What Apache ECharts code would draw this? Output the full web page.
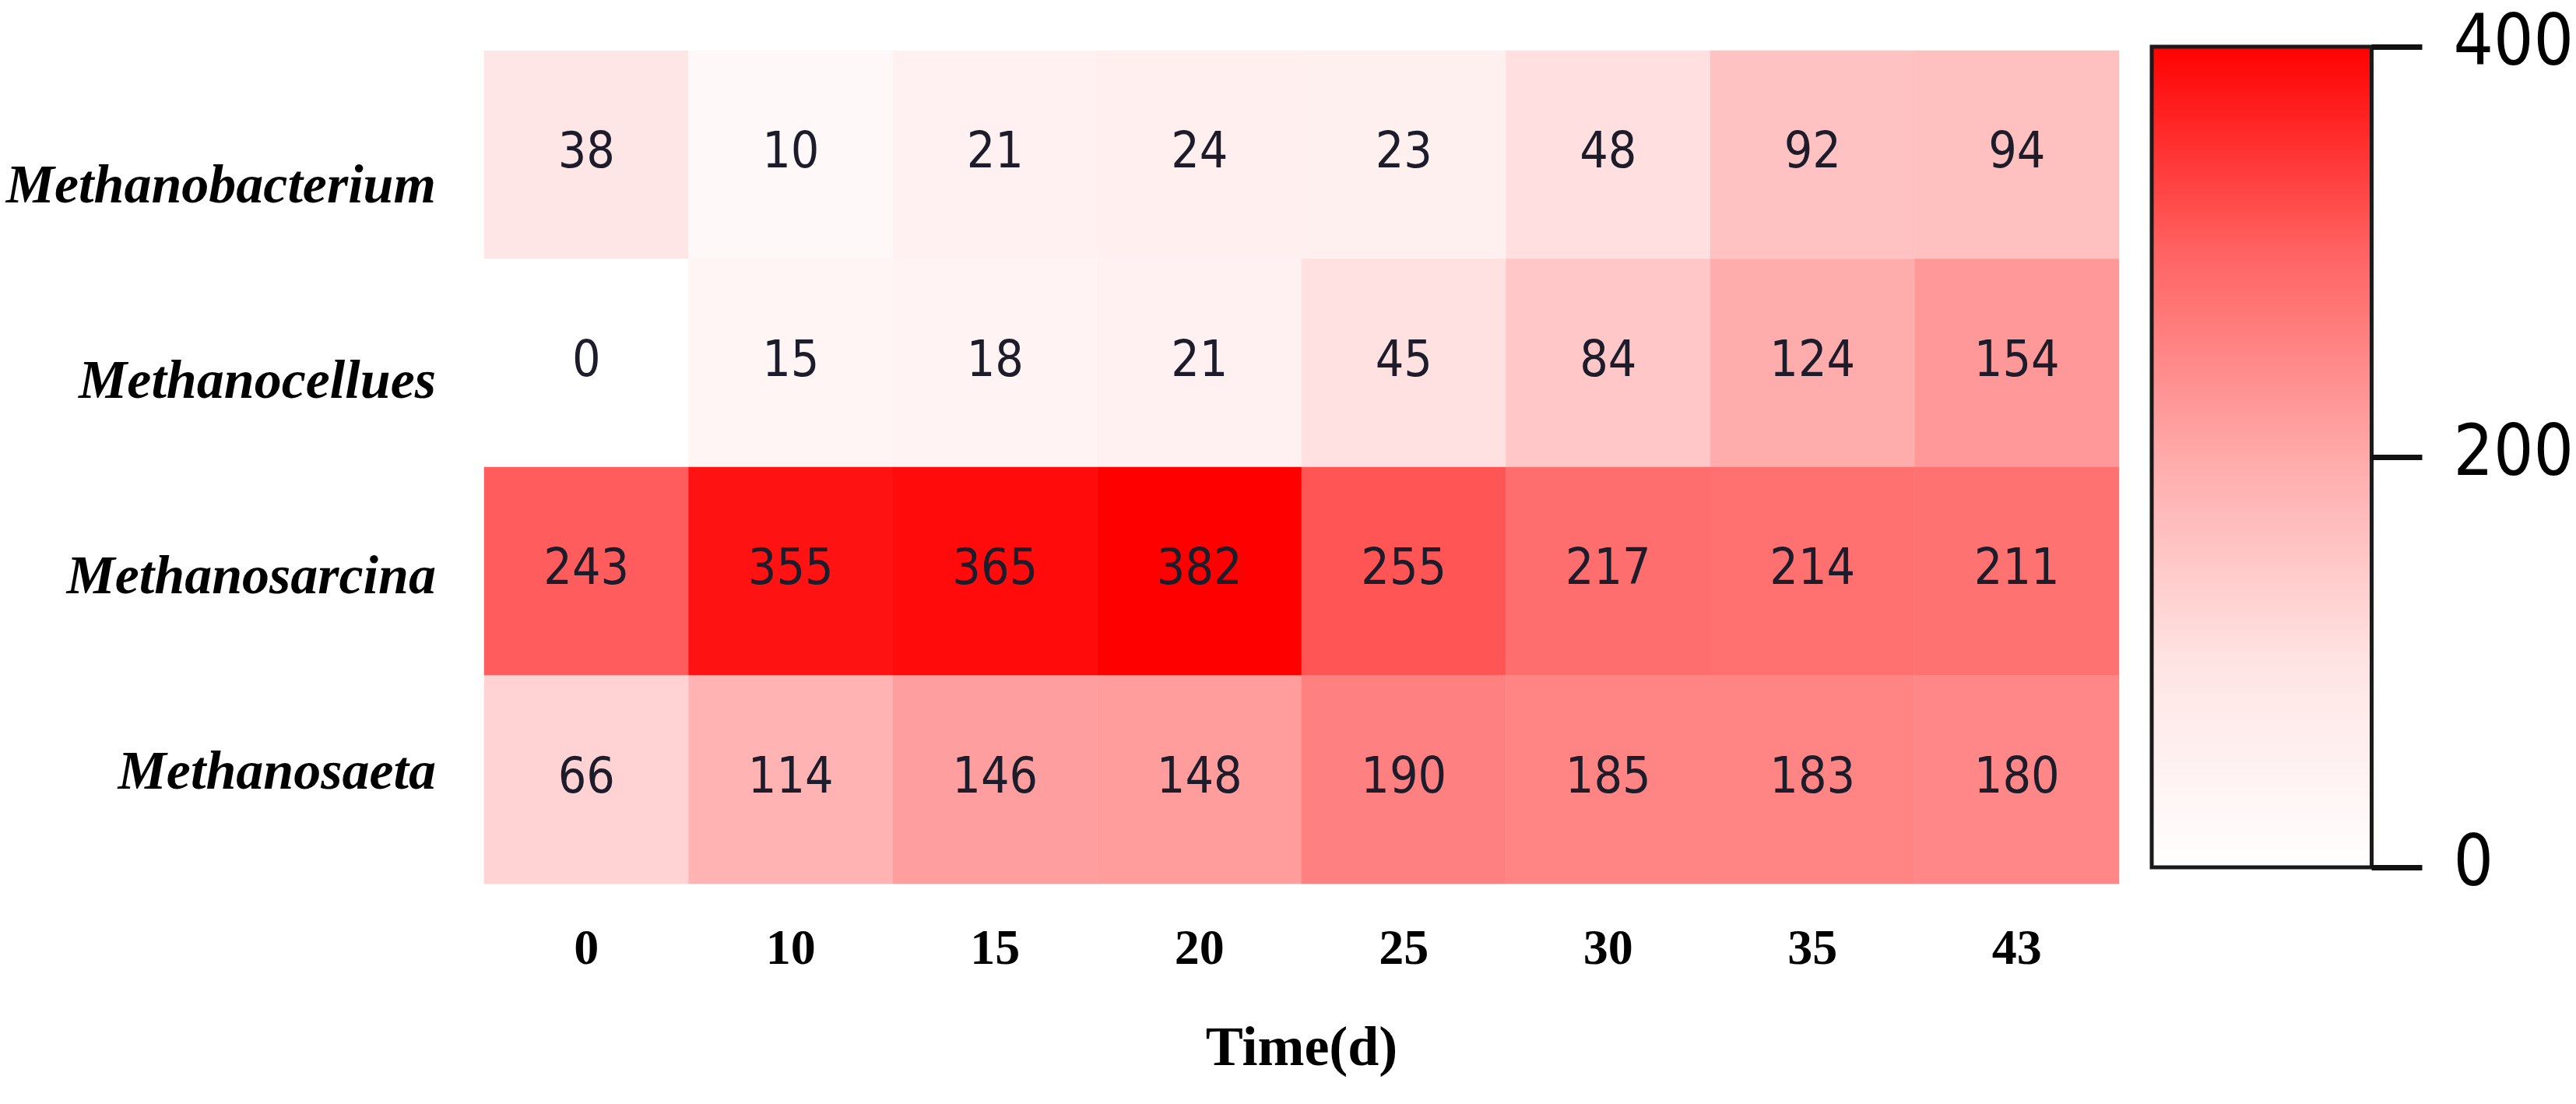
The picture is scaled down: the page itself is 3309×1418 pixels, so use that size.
<!DOCTYPE html>
<html>
<head>
<meta charset="utf-8">
<script src="https://cdn.jsdelivr.net/npm/echarts@6/dist/echarts.min.js"></script>
<style>
html,body{margin:0;padding:0;background:#fff;}
#chart{width:3309px;height:1418px;}
</style>
</head>
<body>
<div id="chart"></div>
<script>
// ---- data ----
const times = ['0', '10', '15', '20', '25', '30', '35', '43'];
const genera = ['Methanobacterium', 'Methanocellues', 'Methanosarcina', 'Methanosaeta'];
const methanobacterium = [38, 10, 21, 24, 23, 48, 92, 94];
const methanocellues = [0, 15, 18, 21, 45, 84, 124, 154];
const methanosarcina = [243, 355, 365, 382, 255, 217, 214, 211];
const methanosaeta = [66, 114, 146, 148, 190, 185, 183, 180];
const colorbarMin = 0;
const colorbarMax = 400;
const colorbarInterval = 200;

const rows = [methanobacterium, methanocellues, methanosarcina, methanosaeta];
const heatData = [];
rows.forEach(function (vals, r) {
  vals.forEach(function (v, c) { heatData.push([c, r, v]); });
});
const dataMax = Math.max.apply(null, rows.flat());

const serif = '"Liberation Serif", "Times New Roman", serif';
const narrow = '"DejaVu Sans Condensed", "Liberation Sans Narrow", "Liberation Sans", sans-serif';

const chart = echarts.init(document.getElementById('chart'), null, {renderer: 'canvas'});
chart.setOption({
  backgroundColor: '#ffffff',
  animation: false,
  grid: [
    {left: 622, top: 65, width: 2100, height: 1070, show: false},
    {left: 622, top: 116, width: 10, height: 1004, show: false},
    {left: 2764, top: 60, width: 289, height: 1054, show: true,
     borderColor: '#1a1a1a', borderWidth: 5,
     backgroundColor: new echarts.graphic.LinearGradient(0, 0, 0, 1, [
       {offset: 0, color: '#ff0000'},
       {offset: 0.25, color: '#ff6262'},
       {offset: 0.5, color: '#ffaaaa'},
       {offset: 0.75, color: '#ffe4e4'},
       {offset: 1, color: '#ffffff'}
     ])}
  ],
  xAxis: [
    {type: 'category', gridIndex: 0, data: times,
     axisLine: {show: false}, axisTick: {show: false}, splitLine: {show: false},
     axisLabel: {fontFamily: serif, fontWeight: 'bold', fontSize: 64, color: '#000', margin: 54},
     name: 'Time(d)', nameLocation: 'middle', nameGap: 178,
     nameTextStyle: {fontFamily: serif, fontWeight: 'bold', fontSize: 72, color: '#000'}},
    {type: 'value', gridIndex: 1, show: false},
    {type: 'value', gridIndex: 2, show: false}
  ],
  yAxis: [
    {type: 'category', gridIndex: 0, data: genera, inverse: true,
     axisLine: {show: false}, axisTick: {show: false}, axisLabel: {show: false}, splitLine: {show: false}},
    {type: 'category', gridIndex: 1, data: genera, inverse: true,
     axisLine: {show: false, onZero: false}, axisTick: {show: false}, splitLine: {show: false},
     axisLabel: {fontFamily: serif, fontStyle: 'italic', fontWeight: 'bold', fontSize: 70, color: '#000', margin: 62}},
    {type: 'value', gridIndex: 2, position: 'right', min: colorbarMin, max: colorbarMax, interval: colorbarInterval,
     axisLine: {show: false, onZero: false}, splitLine: {show: false},
     axisTick: {show: true, inside: false, length: 65, lineStyle: {color: '#111', width: 7}},
     axisLabel: {fontFamily: narrow, fontSize: 90, color: '#000', margin: 105}}
  ],
  visualMap: {
    type: 'continuous', show: false, min: 0, max: dataMax, seriesIndex: 0, dimension: 2,
    inRange: {color: ['#ffffff', '#ff0000']}
  },
  series: [{
    type: 'heatmap',
    xAxisIndex: 0, yAxisIndex: 0,
    data: heatData,
    label: {show: true, fontFamily: narrow, fontSize: 64, color: '#1c1c2a',
            formatter: function (p) { return p.value[2]; }},
    emphasis: {disabled: true}
  }]
});
</script>
</body>
</html>
